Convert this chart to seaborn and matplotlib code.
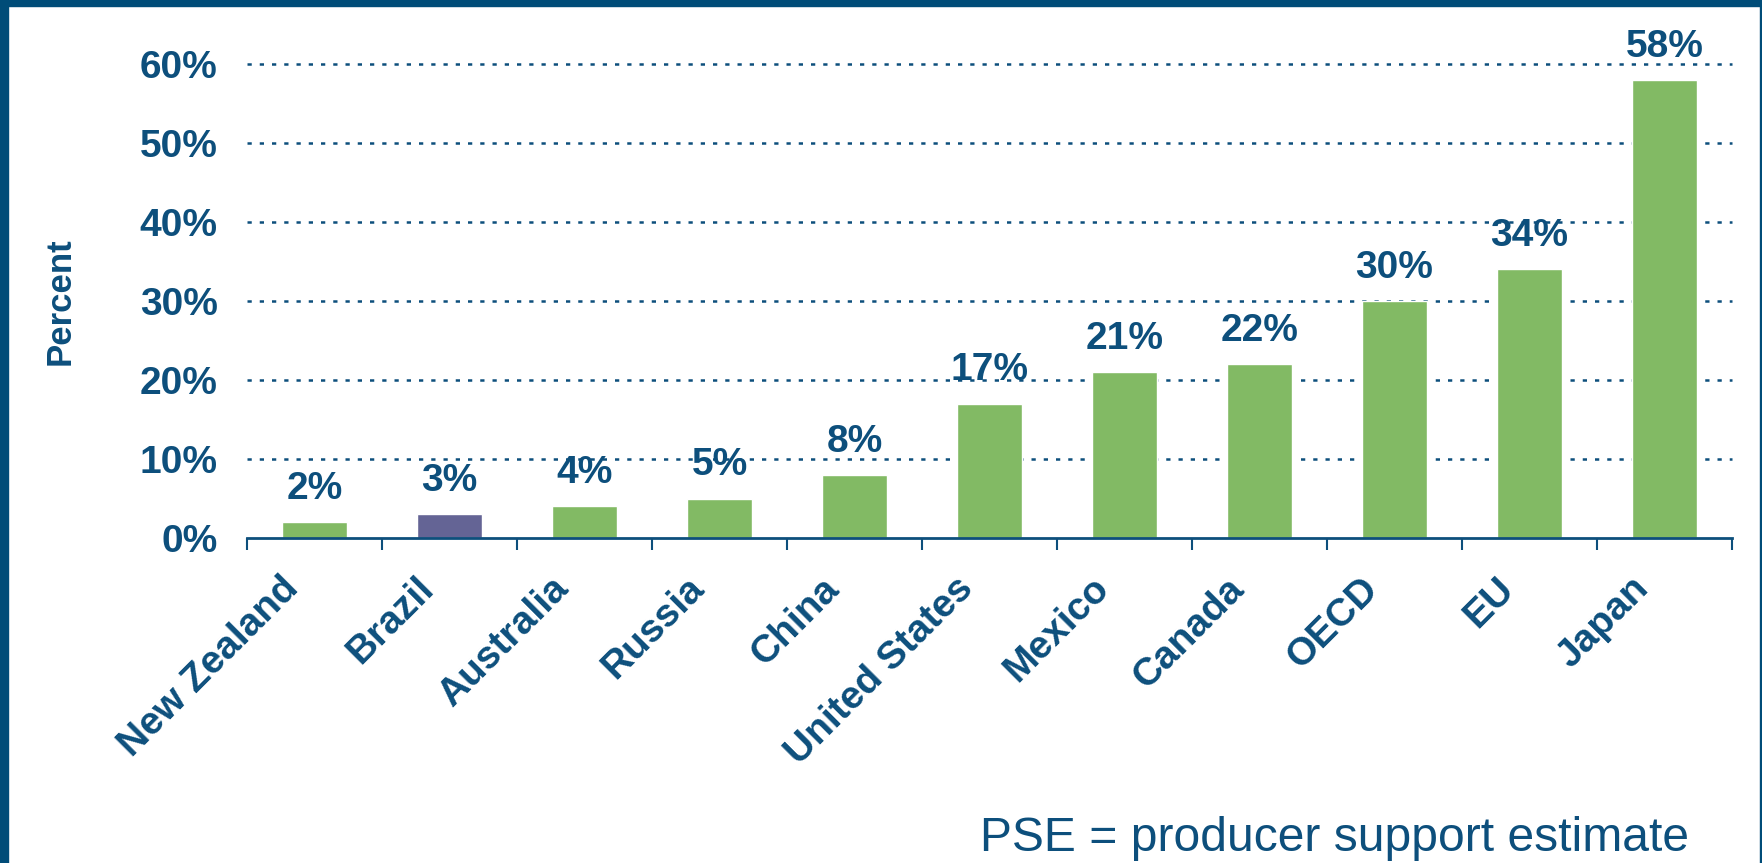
import numpy as np
import pandas as pd
import matplotlib
matplotlib.use("Agg")
import matplotlib.pyplot as plt
from matplotlib.patches import Rectangle
from matplotlib.transforms import ScaledTranslation
import seaborn as sns

# === Data ===
countries = ["New Zealand", "Brazil", "Australia", "Russia", "China", "United States",
             "Mexico", "Canada", "OECD", "EU", "Japan"]
pse_values = [2, 3, 4, 5, 8, 17, 21, 22, 30, 34, 58]
bar_colors = ["#82BA64", "#646495", "#82BA64", "#82BA64", "#82BA64", "#82BA64",
              "#82BA64", "#82BA64", "#82BA64", "#82BA64", "#82BA64"]
ytick_values = [0, 10, 20, 30, 40, 50, 60]

NAVY = "#0D4F7C"
BORDER = "#004C78"

df = pd.DataFrame({"country": countries, "pse": pse_values})

sns.set_style("white")
plt.rcParams['font.family'] = ['Liberation Sans', 'DejaVu Sans']

fig = plt.figure(figsize=(17.62, 8.63), dpi=100)
ax = fig.add_axes([247 / 1762, 1 - 538 / 863, (1732 - 247) / 1762, (538 - 64) / 863])

sns.barplot(data=df, x="country", y="pse", hue="country", palette=bar_colors,
            legend=False, width=0.48, saturation=1, ax=ax, zorder=3)

# value labels
for i, v in enumerate(pse_values):
    ax.annotate(f"{v}%", (i, v), xytext=(0, 11), textcoords="offset points",
                ha="center", va="bottom", fontsize=28, fontweight="bold",
                color=NAVY, annotation_clip=False)

# === Axes styling ===
ax.set_xlim(-0.5, len(countries) - 0.5)
ax.set_ylim(0, 60)
ax.set_yticks(ytick_values)
ax.set_yticklabels([f"{t}%" for t in ytick_values])
for t in ytick_values[1:]:
    ax.axhline(t, color=NAVY, linewidth=1.8, dashes=(1.7, 3.2), zorder=1, clip_on=False)

for s in ["top", "right", "left"]:
    ax.spines[s].set_visible(False)
ax.spines["bottom"].set_color(NAVY)
ax.spines["bottom"].set_linewidth(2)
ax.spines["bottom"].set_zorder(4)

ax.tick_params(axis="y", length=0, pad=21, labelsize=28, labelcolor=NAVY)
for lbl in ax.get_yticklabels():
    lbl.set_fontweight("bold")

ax.set_xticks(range(len(countries)))
ax.set_xticklabels(countries, rotation=45, ha="right", va="top", rotation_mode="anchor",
                   fontsize=28, fontweight="bold", color=NAVY)
ax.tick_params(axis="x", which="major", length=0, pad=14)
shift = ScaledTranslation(-0.34, -0.13, fig.dpi_scale_trans)
for lbl in ax.get_xticklabels():
    lbl.set_transform(lbl.get_transform() + shift)
ax.set_xticks(np.arange(-0.5, len(countries), 1), minor=True)
ax.tick_params(axis="x", which="minor", bottom=True, length=8.5, width=1.5,
               color=NAVY, direction="out")
ax.set_xlabel("")

ax.set_ylabel("Percent", fontsize=25, fontweight="bold", color=NAVY)
ax.yaxis.set_label_coords(-0.1145, 0.5)

# footnote
fig.text(1689 / 1762, 1 - 851 / 863, "PSE = producer support estimate",
         ha="right", va="baseline", fontsize=34.6, color=NAVY)

# frame borders
fig.add_artist(Rectangle((0, 1 - 6 / 863), 1, 6 / 863, transform=fig.transFigure,
                         color=BORDER, zorder=10))
fig.add_artist(Rectangle((0, 0), 8 / 1762, 1, transform=fig.transFigure,
                         color=BORDER, zorder=10))
fig.add_artist(Rectangle((1 - 2 / 1762, 0), 2 / 1762, 1, transform=fig.transFigure,
                         color=BORDER, zorder=10))

fig.savefig("out.png", dpi=100)
